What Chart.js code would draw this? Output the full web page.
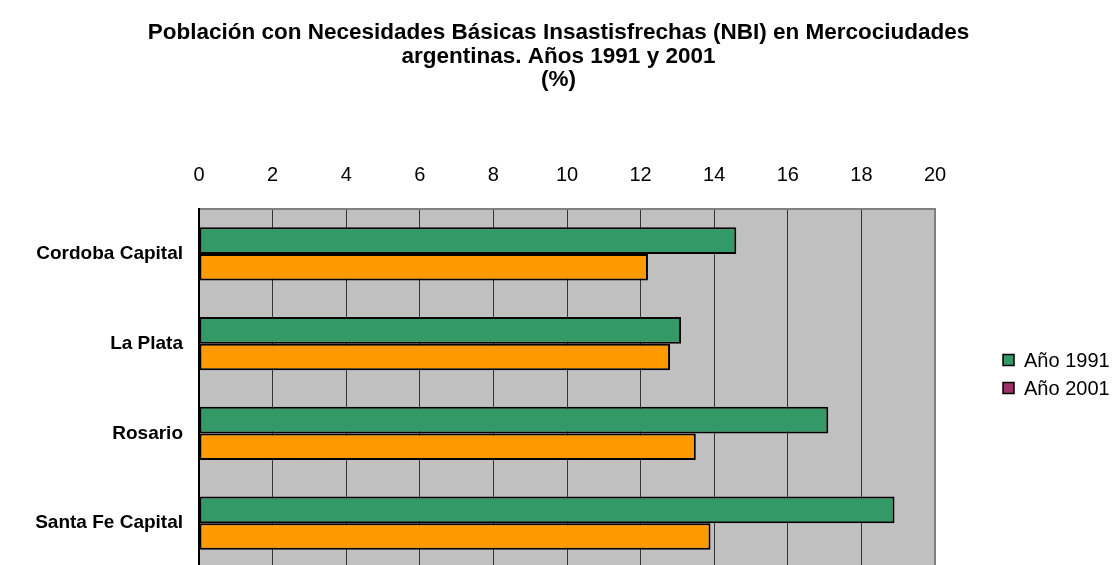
<!DOCTYPE html>
<html>
<head>
<meta charset="utf-8">
<script src="https://cdn.jsdelivr.net/npm/chart.js@4.4.1/dist/chart.umd.min.js"></script>
<style>
html,body{margin:0;padding:0;background:#fff;overflow:hidden;}
canvas{display:block;}
</style>
</head>
<body>
<canvas id="c" width="1117" height="580" style="width:1117px;height:580px;"></canvas>
<script>
const categories = ['Cordoba Capital', 'La Plata', 'Rosario', 'Santa Fe Capital'];
const values1991 = [14.6, 13.1, 17.1, 18.9];
const values2001 = [12.2, 12.8, 13.5, 13.9];
const seriesNames = ['Año 1991', 'Año 2001'];
const legendSwatches = ['#339966', '#993366'];
const titleLines = ['Población con Necesidades Básicas Insastisfrechas (NBI) en Mercociudades', 'argentinas. Años 1991 y 2001', '(%)'];
const xMin = 0, xMax = 20, xStep = 2;

const FONT = "'Liberation Sans', Arial, sans-serif";
const TITLE_SIZE = 22.5, TITLE_LH = 1.04, TITLE_TOP = 21.5;
const PLOT_TOP = 209, PLOT_BOTTOM = 568;

const bgPlugin = {
  id: 'bg',
  beforeDraw(chart) {
    const {ctx, chartArea: a} = chart;
    ctx.save();
    ctx.fillStyle = '#fff';
    ctx.fillRect(0, 0, chart.width, chart.height);
    ctx.fillStyle = '#C0C0C0';
    ctx.fillRect(a.left, a.top, a.right - a.left, a.bottom - a.top);
    ctx.restore();
  },
  afterDatasetsDraw(chart) {
    const {ctx, chartArea: a} = chart;
    ctx.save();
    ctx.strokeStyle = '#808080';
    ctx.lineWidth = 2;
    ctx.beginPath();
    ctx.moveTo(a.right, a.top);
    ctx.lineTo(a.right, a.bottom + 5);
    ctx.stroke();
    ctx.restore();
  }
};

const legendPlugin = {
  id: 'customLegend',
  afterDraw(chart) {
    const {ctx} = chart;
    ctx.save();
    ctx.font = '20px ' + FONT;
    ctx.textBaseline = 'middle';
    ctx.textAlign = 'left';
    const x = 1003, y0 = 360, gap = 28, s = 11;
    seriesNames.forEach((name, i) => {
      const y = y0 + i * gap;
      ctx.fillStyle = legendSwatches[i];
      ctx.fillRect(x, y - s / 2, s, s);
      ctx.strokeStyle = '#000';
      ctx.lineWidth = 1.5;
      ctx.strokeRect(x, y - s / 2, s, s);
      ctx.fillStyle = '#000';
      ctx.fillText(name, x + 21, y + 1);
    });
    ctx.restore();
  }
};

new Chart(document.getElementById('c'), {
  type: 'bar',
  data: {
    labels: categories,
    datasets: [
      {label: seriesNames[0], data: values1991, backgroundColor: '#339966', borderColor: '#000', borderWidth: 2, borderSkipped: false, yAxisID: 'y'},
      {label: seriesNames[1], data: values2001, backgroundColor: '#FF9900', borderColor: '#000', borderWidth: 2, borderSkipped: false, yAxisID: 'y'}
    ]
  },
  options: {
    indexAxis: 'y',
    responsive: false,
    maintainAspectRatio: false,
    animation: false,
    devicePixelRatio: 1,
    datasets: {bar: {categoryPercentage: 0.595, barPercentage: 1}},
    layout: {padding: (ctx) => ({left: 0, right: 0, top: 0, bottom: Math.max(ctx.chart.height - PLOT_BOTTOM, 0)})},
    plugins: {
      legend: {display: false},
      tooltip: {enabled: false},
      title: {
        display: true,
        text: titleLines,
        color: '#000',
        font: {family: FONT, size: TITLE_SIZE, weight: 'bold', lineHeight: TITLE_LH},
        padding: {top: TITLE_TOP, bottom: 0}
      }
    },
    scales: {
      x: {
        position: 'top',
        min: xMin, max: xMax,
        ticks: {stepSize: xStep, color: '#000', font: {family: FONT, size: 20}, padding: 22},
        grid: {color: '#333', lineWidth: 1, drawTicks: false},
        border: {color: '#808080', width: 2},
        afterFit(scale) { scale.height = PLOT_TOP - TITLE_TOP - 3 * TITLE_SIZE * TITLE_LH; }
      },
      y: {
        ticks: {color: '#000', font: {family: FONT, size: 19, weight: 'bold'}, padding: 16},
        grid: {display: false, drawTicks: false},
        border: {color: '#000', width: 2},
        afterFit(scale) { scale.width = 199; scale.paddingTop = 0; scale.paddingBottom = 0; }
      },
      legendSpace: {
        type: 'linear',
        axis: 'y',
        position: 'right',
        display: true,
        ticks: {display: false},
        grid: {display: false, drawTicks: false},
        border: {display: false},
        afterFit(scale) { scale.width = 182; scale.paddingTop = 0; scale.paddingBottom = 0; }
      }
    }
  },
  plugins: [bgPlugin, legendPlugin]
});
</script>
</body>
</html>
